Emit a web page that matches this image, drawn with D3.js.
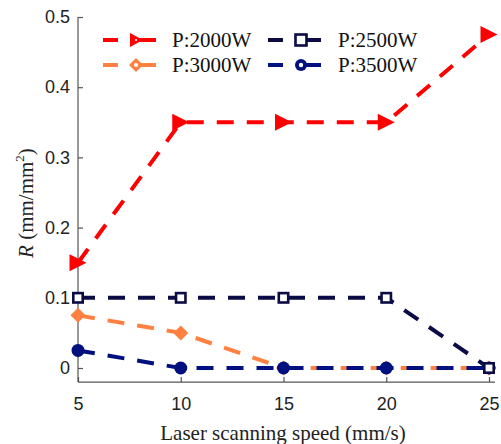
<!DOCTYPE html>
<html><head><meta charset="utf-8">
<script src="https://cdn.jsdelivr.net/npm/d3@7"></script>
<style>body{margin:0;background:#fff}svg{display:block}</style>
</head><body>
<script>
const speeds = [5, 10, 15, 20, 25];
const p2000 = [0.15, 0.35, 0.35, 0.35, 0.475];
const p2500 = [0.1, 0.1, 0.1, 0.1, 0];
const p3000 = [0.075, 0.05, 0, 0, 0];
const p3500 = [0.025, 0, 0, 0, 0];
const xTicks = [5, 10, 15, 20, 25];
const yTicks = [0, 0.1, 0.2, 0.3, 0.4, 0.5];
const seriesNames = ["P:2000W", "P:2500W", "P:3000W", "P:3500W"];

const W = 501, H = 444;
const svg = d3.select("body").append("svg").attr("width", W).attr("height", H);
const x = d3.scaleLinear().domain([5, 25]).range([78, 489]);
const y = d3.scaleLinear().domain([0, 0.5]).range([368, 17]);
const yBottom = y(-0.02);
const serif = "Liberation Serif, Times New Roman, serif";

const series = [
  {name: seriesNames[0], vals: p2000, color: "#ff0000", marker: "tri"},
  {name: seriesNames[2], vals: p3000, color: "#ff8040", marker: "diamond"},
  {name: seriesNames[3], vals: p3500, color: "#00107f", marker: "circle"},
  {name: seriesNames[1], vals: p2500, color: "#0b0b45", marker: "square"}
];

// axes
const gx = svg.append("g").attr("transform", `translate(0,${yBottom})`)
  .call(d3.axisBottom(x).tickValues(xTicks).tickSize(-5).tickPadding(15).tickFormat(d3.format("d")));
const gy = svg.append("g").attr("transform", `translate(${x(5)},0)`)
  .call(d3.axisLeft(y).tickValues(yTicks).tickSize(-5).tickPadding(8).tickFormat(d => d === 0 ? "0" : d3.format(".1f")(d)));
gx.select(".domain").attr("d", `M${x(5)},0H495`);
gy.select(".domain").attr("d", `M0,${yBottom}V${y(0.5)}`);
[gx, gy].forEach(g => {
  g.selectAll(".domain").attr("stroke", "#555").attr("stroke-width", 1.2);
  g.selectAll(".tick line").attr("stroke", "#555").attr("stroke-width", 1.2);
  g.selectAll("text").attr("font-family", "Liberation Sans, Arial, sans-serif").attr("font-size", 18).attr("fill", "#222");
});

function drawMarker(g, type, color, s) {
  if (type === "tri") {
    g.append("path").attr("d", `M${-s*0.5},${-s*0.5}L${s*0.5},0L${-s*0.5},${s*0.5}Z`).attr("fill", color);
  } else if (type === "diamond") {
    g.append("path").attr("d", `M0,${-s/2}L${s/2},0L0,${s/2}L${-s/2},0Z`).attr("fill", color);
  } else if (type === "circle") {
    g.append("circle").attr("r", s/2).attr("fill", color);
  } else if (type === "square") {
    g.append("rect").attr("x", -s/2+1.3).attr("y", -s/2+1.3).attr("width", s-2.6).attr("height", s-2.6)
      .attr("fill", "#fff").attr("stroke", color).attr("stroke-width", 2.6);
  }
}
const mSize = {tri: 17, diamond: 15, circle: 13, square: 12};

const line = d3.line().x((d, i) => x(speeds[i])).y(d => y(d));
series.forEach(s => {
  svg.append("path").attr("d", line(s.vals)).attr("fill", "none").attr("stroke", s.color)
    .attr("stroke-width", 4).attr("stroke-dasharray", "17,13");
  s.vals.forEach((v, i) => {
    const g = svg.append("g").attr("transform", `translate(${x(speeds[i])},${y(v)})`);
    drawMarker(g, s.marker, s.color, mSize[s.marker]);
  });
});

// legend
const legendItems = [
  {s: series[0], lx: 103, ly: 40},
  {s: series[3], lx: 268, ly: 40},
  {s: series[1], lx: 103, ly: 65},
  {s: series[2], lx: 268, ly: 65}
];
legendItems.forEach(it => {
  const g = svg.append("g").attr("transform", `translate(${it.lx},${it.ly})`);
  g.append("line").attr("x1", 0).attr("x2", 15).attr("stroke", it.s.color).attr("stroke-width", 4);
  g.append("line").attr("x1", 30).attr("x2", 53).attr("stroke", it.s.color).attr("stroke-width", 4);
  const mg = g.append("g").attr("transform", "translate(33,0)");
  const t = it.s.marker;
  if (t === "tri") {
    mg.append("path").attr("d", "M-6,-7L7,0L-6,7Z").attr("fill", it.s.color);
    mg.append("circle").attr("r", 1).attr("fill", "#fff");
  } else if (t === "diamond") {
    mg.append("path").attr("d", "M0,-7L7,0L0,7L-7,0Z").attr("fill", it.s.color);
    mg.append("circle").attr("r", 2).attr("fill", "#fff");
  } else if (t === "circle") {
    mg.append("circle").attr("r", 6).attr("fill", it.s.color);
    mg.append("circle").attr("r", 2.2).attr("fill", "#fff");
  } else {
    mg.append("rect").attr("x", -5.5).attr("y", -5.5).attr("width", 11).attr("height", 11)
      .attr("fill", "#fff").attr("stroke", it.s.color).attr("stroke-width", 2.6);
  }
  g.append("text").attr("x", it.lx === 103 ? 69 : 70).attr("y", 7).text(it.s.name)
    .attr("font-family", serif).attr("font-size", 21).attr("fill", "#111");
});

// axis titles
svg.append("text").attr("x", 283).attr("y", 440).attr("text-anchor", "middle")
  .attr("font-family", serif).attr("font-size", 21).attr("fill", "#222")
  .text("Laser scanning speed (mm/s)");
const yl = svg.append("text").attr("transform", "translate(33,203) rotate(-90)").attr("text-anchor", "middle")
  .attr("font-family", serif).attr("font-size", 21).attr("fill", "#222");
yl.append("tspan").attr("font-style", "italic").text("R");
yl.append("tspan").text(" (mm/mm");
yl.append("tspan").attr("font-size", 13).attr("dy", -9).text("2");
yl.append("tspan").attr("dy", 9).text(")");
</script>
</body></html>
